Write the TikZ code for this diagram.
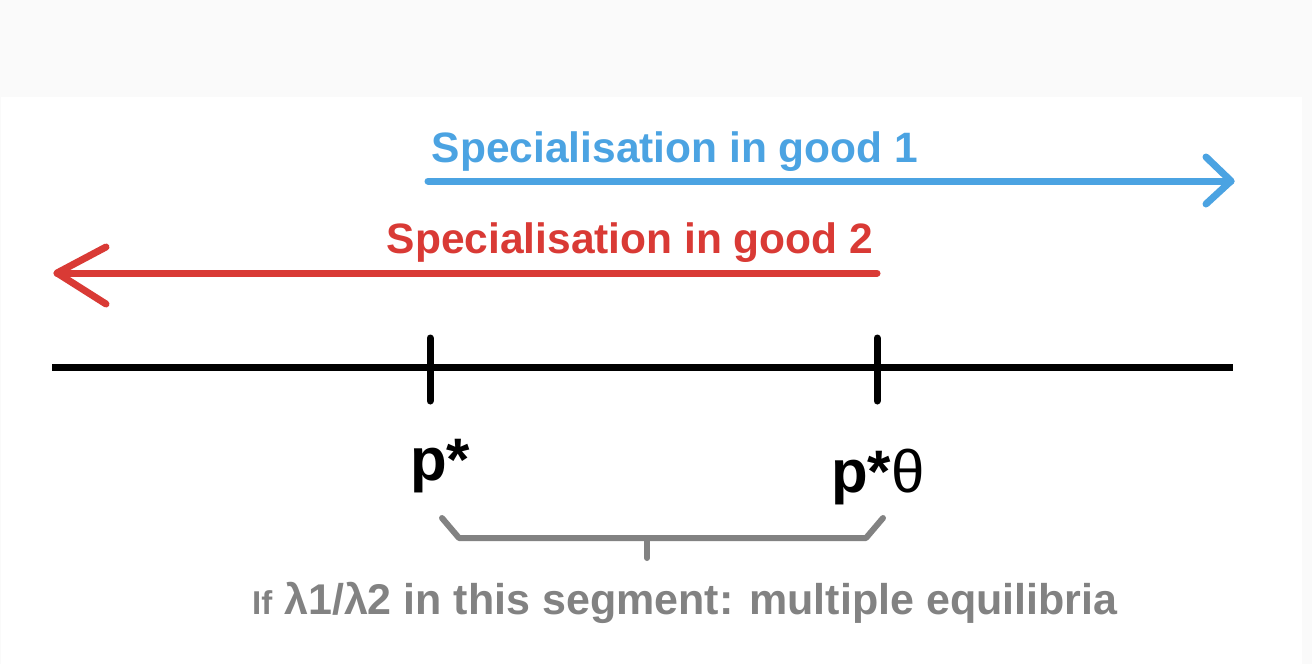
\documentclass[tikz,border=0pt]{standalone}
\usepackage{fontspec}
\setmainfont{Liberation Sans}
\begin{document}
\begin{tikzpicture}[x=1pt,y=-1pt,
  line cap=round, line join=round,
  blueline/.style={draw=goodblue, line width=7pt},
  redline/.style={draw=goodred, line width=7pt},
  axisline/.style={draw=black, line width=7pt},
  bracketline/.style={draw=bracegray, line width=6pt},
  bigtext/.style={inner sep=0pt, font=\fontsize{42.5}{50}\selectfont\bfseries},
  labeltext/.style={inner sep=0pt, anchor=base west, font=\fontsize{60}{70}\selectfont\bfseries},
  notetext/.style={inner sep=0pt, anchor=base west, text=bracegray, font=\fontsize{43}{50}\selectfont\bfseries}]
\definecolor{goodblue}{HTML}{4BA3E2}
\definecolor{goodred}{HTML}{D93A35}
\definecolor{bracegray}{HTML}{828282}
\definecolor{bandgray}{HTML}{FAFAFA}
\useasboundingbox (0,0) rectangle (1312,664);
\fill[bandgray] (0,0) rectangle (1312,664);
\fill[white] (1,97) rectangle (1302,664);
% blue arrow
\node[bigtext, text=goodblue, anchor=base] (t1) at (675,162) {Specialisation in good 1};
\coordinate (b0) at (428,181);
\coordinate (b1) at (1231,181);
\coordinate (b1u) at (1206,157);
\coordinate (b1d) at (1206,204);
\draw[blueline] (b0) -- (b1);
\draw[blueline] (b1u) -- (b1) -- (b1d);
% red arrow
\node[bigtext, text=goodred, anchor=base] (t2) at (630,253) {Specialisation in good 2};
\coordinate (r0) at (877,273);
\coordinate (r1) at (57,273);
\coordinate (r1u) at (106,247);
\coordinate (r1d) at (106,304);
\draw[redline] (r0) -- (r1);
\draw[redline] (r1u) -- (r1) -- (r1d);
% axis
\coordinate (a0) at (52,367);
\coordinate (a1) at (1233,367);
\draw[axisline, line cap=butt] (a0) -- (a1);
\coordinate (k1t) at (430,338);
\coordinate (k1b) at (430,401);
\coordinate (k2t) at (877,338);
\coordinate (k2b) at (877,401);
\draw[axisline] (k1t) -- (k1b);
\draw[axisline] (k2t) -- (k2b);
% labels
\node[labeltext] (p1) at (410,480) {p*};
\node[labeltext] (p2) at (831,492) {p*\mdseries θ};
% bracket
\coordinate (c0) at (442,518);
\coordinate (c1) at (459,538);
\coordinate (c2) at (866,538);
\coordinate (c3) at (883,518);
\coordinate (cm) at (647,538);
\coordinate (cn) at (647,558);
\draw[bracketline] (c0) -- (c1) -- (c2) -- (c3);
\draw[bracketline] (cm) -- (cn);
% note
\node[notetext] (n1) at (252,614) {{\fontsize{33}{40}\selectfont If} λ1/λ2 in this segment: multiple equilibria};
\end{tikzpicture}
\end{document}
